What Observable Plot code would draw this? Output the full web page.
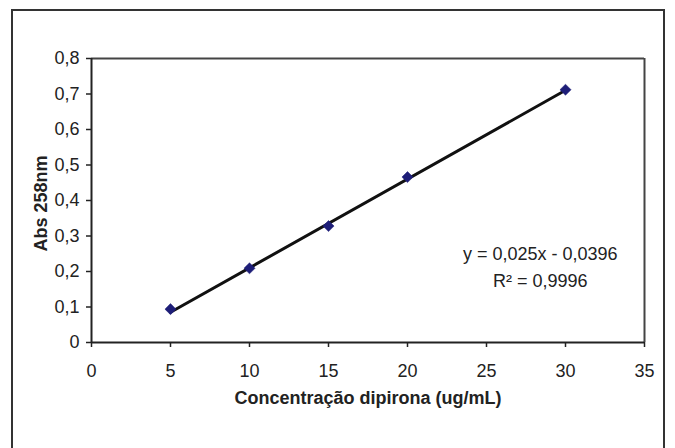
<!DOCTYPE html>
<html>
<head>
<meta charset="utf-8">
<script src="https://cdn.jsdelivr.net/npm/d3@7"></script>
<script src="https://cdn.jsdelivr.net/npm/@observablehq/plot@0.6"></script>
<style>
  html, body { margin: 0; padding: 0; background: #fff; }
  #chart svg { display: block; }
</style>
</head>
<body>
<div id="chart"></div>
<script>
const concentration = [5, 10, 15, 20, 30];
const absorbance = [0.094, 0.209, 0.328, 0.466, 0.712];
const trendX = [5, 30];
const trendY = [0.0854, 0.7104];
const xTicks = [0, 5, 10, 15, 20, 25, 30, 35];
const yTicks = [0, 0.1, 0.2, 0.3, 0.4, 0.5, 0.6, 0.7, 0.8];
const equationLines = ["y = 0,025x - 0,0396", "R² = 0,9996"];
const xTitle = "Concentração dipirona (ug/mL)";
const yTitle = "Abs 258nm";

const points = concentration.map((x, i) => ({x, y: absorbance[i]}));
const trend = trendX.map((x, i) => ({x, y: trendY[i]}));
const fmt = d => String(+d.toFixed(2)).replace(".", ",");

const svg = Plot.plot({
  width: 675,
  height: 448,
  marginLeft: 91,
  marginRight: 31,
  marginTop: 58,
  marginBottom: 106,
  style: {fontFamily: "'Liberation Sans', Arial, sans-serif", fontSize: "18px", color: "#222", background: "#fff"},
  x: {domain: [0, 35], ticks: xTicks, tickFormat: fmt, label: null},
  y: {domain: [0, 0.8], ticks: yTicks, tickFormat: fmt, label: null},
  marks: [
    Plot.ruleY([0.8], {stroke: "#444", strokeWidth: 2}),
    Plot.ruleX([35], {stroke: "#444", strokeWidth: 2}),
    Plot.ruleY([0], {stroke: "#222", strokeWidth: 2}),
    Plot.ruleX([0], {stroke: "#222", strokeWidth: 2}),
    Plot.axisX({ticks: xTicks, tickFormat: fmt, tickSize: 5, tickPadding: 17, strokeWidth: 1.5, label: null, fontSize: 18}),
    Plot.axisY({ticks: yTicks, tickFormat: fmt, tickSize: 5, tickPadding: 7, strokeWidth: 1.5, label: null, fontSize: 18}),
    Plot.line(trend, {x: "x", y: "y", stroke: "#111", strokeWidth: 3}),
    Plot.dot(points, {x: "x", y: "y", symbol: "diamond2", r: 5, fill: "#1e1e78", stroke: "#1e1e78", strokeWidth: 0.5}),
    Plot.text([equationLines.join("\n")], {x: 28.4, y: 0.22, text: d => d, textAnchor: "middle", lineAnchor: "middle", lineHeight: 1.5, fontSize: 18, fill: "#222"}),
    Plot.text([xTitle], {frameAnchor: "bottom", dy: 61, textAnchor: "middle", text: d => d, fontWeight: "bold", fontSize: 18, fill: "#222"}),
    Plot.text([yTitle], {frameAnchor: "left", dx: -50, dy: 3, rotate: -90, textAnchor: "middle", text: d => d, fontWeight: "bold", fontSize: 18, fill: "#222"})
  ]
});

d3.select(svg).insert("rect", ":first-child")
  .attr("x", 12).attr("y", 10).attr("width", 652).attr("height", 460)
  .attr("fill", "none").attr("stroke", "#333").attr("stroke-width", 2);

document.getElementById("chart").appendChild(svg);
</script>
</body>
</html>
